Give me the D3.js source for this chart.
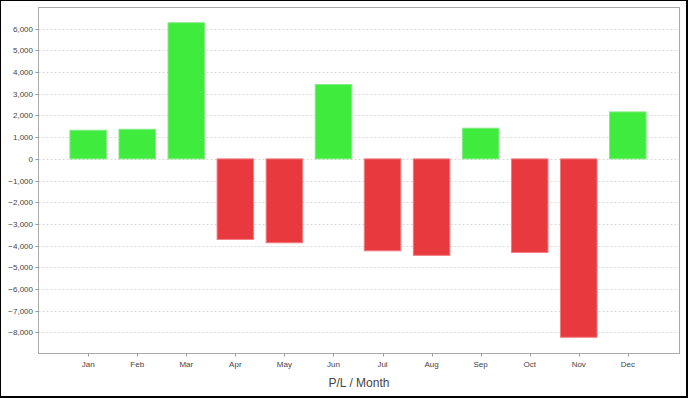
<!DOCTYPE html>
<html>
<head>
<meta charset="utf-8">
<script src="https://cdn.jsdelivr.net/npm/d3@7"></script>
<style>
  html, body { margin: 0; padding: 0; background: #fff; }
  svg { display: block; }
  text { font-family: "Liberation Sans", Arial, sans-serif; }
</style>
</head>
<body>
<svg id="chart" width="688" height="398"></svg>
<script>
const months = ["Jan","Feb","Mar","Apr","May","Jun","Jul","Aug","Sep","Oct","Nov","Dec"];
const profitLoss = [1320, 1365, 6275, -3710, -3865, 3425, -4235, -4445, 1415, -4310, -8220, 2165];
const yTicks = [-8000,-7000,-6000,-5000,-4000,-3000,-2000,-1000,0,1000,2000,3000,4000,5000,6000];
const xTitle = "P/L / Month";

const W = 688, H = 398;
const plot = { left: 38.5, right: 679.5, top: 7.5, bottom: 353.5 };

const svg = d3.select("#chart");

// outer black frame
svg.append("rect").attr("x", 0).attr("y", 0).attr("width", W).attr("height", H).attr("fill", "#000");
svg.append("rect").attr("x", 1).attr("y", 1).attr("width", 685).attr("height", 395).attr("fill", "#fff");

const maxV = d3.max(profitLoss), minV = d3.min(profitLoss);
const span = maxV - minV;
const y = d3.scaleLinear()
  .domain([minV - 0.05 * span, maxV + 0.05 * span])
  .range([353, 7]);

const x = d3.scaleBand()
  .domain(months)
  .range([plot.left, plot.right - 2])
  .paddingInner(0.235)
  .paddingOuter(0.63);

// gridlines
svg.append("g").selectAll("line").data(yTicks).join("line")
  .attr("x1", plot.left).attr("x2", plot.right)
  .attr("y1", d => Math.round(y(d)) + 0.5)
  .attr("y2", d => Math.round(y(d)) + 0.5)
  .attr("stroke", "#d9d9d9")
  .attr("stroke-width", 1)
  .attr("stroke-dasharray", "2,2");

// bars
svg.append("g").selectAll("rect").data(profitLoss).join("rect")
  .attr("x", (d, i) => x(months[i]) + 0.5)
  .attr("width", x.bandwidth() - 1)
  .attr("y", d => y(Math.max(0, d)))
  .attr("height", d => Math.abs(y(d) - y(0)))
  .attr("fill", d => d >= 0 ? "#3feb3c" : "#e8393e")
  .attr("stroke", d => d >= 0 ? "#86e986" : "#f07c7f")
  .attr("stroke-width", 1);

// plot outline
svg.append("rect")
  .attr("x", plot.left).attr("y", plot.top)
  .attr("width", plot.right - plot.left).attr("height", plot.bottom - plot.top)
  .attr("fill", "none").attr("stroke", "#aaaaaa").attr("stroke-width", 1);

// y axis ticks and labels
const fmt = d3.format(",");
const yg = svg.append("g");
yg.selectAll("line").data(yTicks).join("line")
  .attr("x1", plot.left - 3).attr("x2", plot.left)
  .attr("y1", d => Math.round(y(d)) + 0.5)
  .attr("y2", d => Math.round(y(d)) + 0.5)
  .attr("stroke", "#999");
yg.selectAll("text").data(yTicks).join("text")
  .attr("x", plot.left - 5.5)
  .attr("y", d => y(d) + 3)
  .attr("text-anchor", "end")
  .attr("font-size", 8)
  .attr("fill", "#444")
  .text(d => fmt(d));

// x axis ticks and labels
const xg = svg.append("g");
xg.selectAll("line").data(months).join("line")
  .attr("x1", d => Math.round(x(d) + x.bandwidth() / 2) + 0.5)
  .attr("x2", d => Math.round(x(d) + x.bandwidth() / 2) + 0.5)
  .attr("y1", plot.bottom).attr("y2", plot.bottom + 3)
  .attr("stroke", "#999");
xg.selectAll("text").data(months).join("text")
  .attr("x", d => x(d) + x.bandwidth() / 2)
  .attr("y", 367)
  .attr("text-anchor", "middle")
  .attr("font-size", 8)
  .attr("fill", "#444")
  .text(d => d);

// axis title
svg.append("text")
  .attr("x", (plot.left + plot.right) / 2)
  .attr("y", 387)
  .attr("text-anchor", "middle")
  .attr("font-size", 12)
  .attr("fill", "#444")
  .text(xTitle);
</script>
</body>
</html>
